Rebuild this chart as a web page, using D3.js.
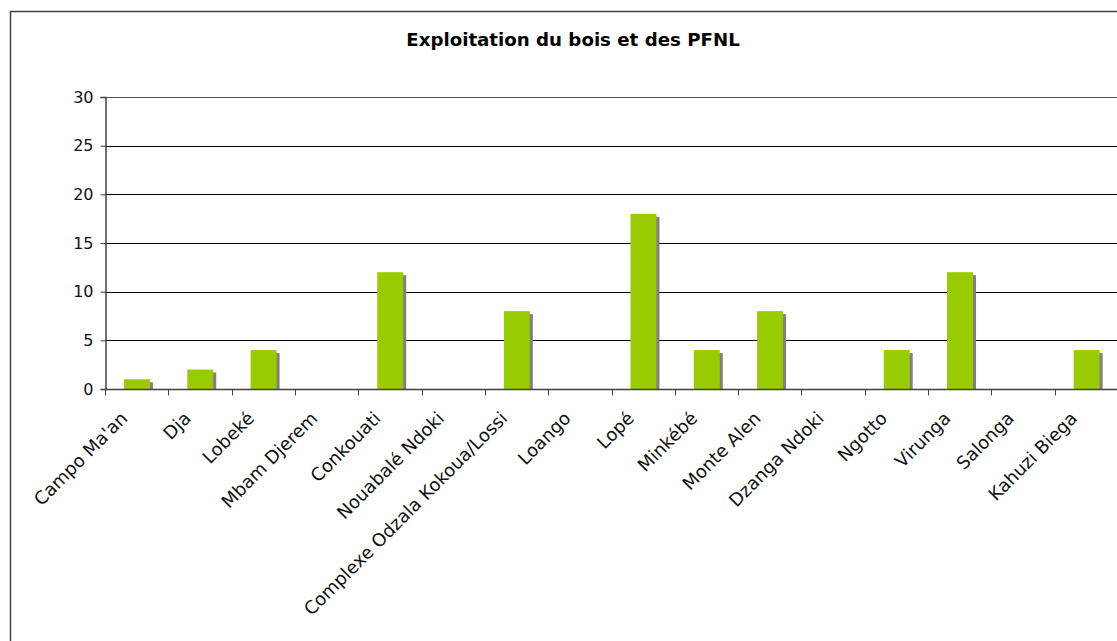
<!DOCTYPE html>
<html>
<head>
<meta charset="utf-8">
<script src="https://cdn.jsdelivr.net/npm/d3@7"></script>
<style>
  body { margin: 0; background: #fff; }
  svg { display: block; font-family: "DejaVu Sans", Verdana, sans-serif; }
</style>
</head>
<body>
<div id="chart"></div>
<script>
const categories = ["Campo Ma'an", "Dja", "Lobeké", "Mbam Djerem", "Conkouati", "Nouabalé Ndoki",
    "Complexe Odzala Kokoua/Lossi", "Loango", "Lopé", "Minkébé", "Monte Alen", "Dzanga Ndoki",
    "Ngotto", "Virunga", "Salonga", "Kahuzi Biega"]
const values = [1, 2, 4, 0, 12, 0, 8, 0, 18, 4, 8, 0, 4, 12, 0, 4]
const yTicks = [0, 5, 10, 15, 20, 25, 30]
const title = "Exploitation du bois et des PFNL"

const width = 1117, height = 641
const plot = {left: 105, top: 97, right: 1118, bottom: 389}

const data = categories.map((c, i) => ({cat: c, val: values[i]}))

const svg = d3.select('#chart').append('svg')
    .attr('width', width)
    .attr('height', height)

// chart frame (runs past the right and bottom edges)
svg.append('rect')
    .attr('x', 10.5).attr('y', 11.5)
    .attr('width', width + 20).attr('height', height + 20)
    .attr('fill', 'none')
    .attr('stroke', '#404040')
    .attr('stroke-width', 1.5)

svg.append('text')
    .attr('x', 573).attr('y', 46)
    .attr('text-anchor', 'middle')
    .attr('font-size', 18.2)
    .attr('font-weight', 'bold')
    .attr('fill', '#000')
    .text(title)

const x = d3.scaleBand()
    .domain(categories)
    .range([plot.left, plot.right])
    .padding(0)

const y = d3.scaleLinear()
    .domain([0, 30])
    .range([plot.bottom, plot.top])

// gridlines
svg.append('g')
    .selectAll('line')
    .data(yTicks.filter(t => t > 0))
    .join('line')
        .attr('x1', plot.left).attr('x2', width + 5)
        .attr('y1', d => Math.round(y(d)) + 0.5)
        .attr('y2', d => Math.round(y(d)) + 0.5)
        .attr('stroke', d => d == 30 ? '#555' : '#000')
        .attr('stroke-width', 1)

// bars with shadow
const barOff = 0.30, barW = 0.41
const bars = svg.append('g')
bars.selectAll('.shadow')
    .data(data.filter(d => d.val > 0))
    .join('rect')
        .attr('class', 'shadow')
        .attr('x', d => x(d.cat) + x.bandwidth() * barOff + 3)
        .attr('y', d => y(d.val) + 3)
        .attr('width', x.bandwidth() * barW)
        .attr('height', d => y(0) - y(d.val) - 3)
        .attr('fill', '#808080')
bars.selectAll('.bar')
    .data(data.filter(d => d.val > 0))
    .join('rect')
        .attr('class', 'bar')
        .attr('x', d => x(d.cat) + x.bandwidth() * barOff)
        .attr('y', d => y(d.val))
        .attr('width', x.bandwidth() * barW)
        .attr('height', d => y(0) - y(d.val))
        .attr('fill', '#99cc00')

// y axis
const yAxis = svg.append('g')
    .attr('transform', 'translate(' + (plot.left + 0.5) + ',0)')
    .call(d3.axisLeft(y).tickValues(yTicks).tickSize(5).tickPadding(7))
yAxis.select('.domain').attr('stroke', '#404040').attr('stroke-width', 1.5)
yAxis.selectAll('.tick line').attr('stroke', '#404040')
yAxis.selectAll('.tick text')
    .attr('font-size', 16)
    .attr('fill', '#111')
    .style('font-family', '"DejaVu Sans", Verdana, sans-serif')

// x axis: ticks on category boundaries
const xg = svg.append('g')
    .attr('transform', 'translate(0,' + (plot.bottom + 0.5) + ')')
xg.append('line')
    .attr('x1', plot.left).attr('x2', width + 5)
    .attr('stroke', '#404040').attr('stroke-width', 1.5)
xg.selectAll('.tk')
    .data(categories.concat(['end']))
    .join('line')
        .attr('class', 'tk')
        .attr('x1', (d, i) => Math.round(plot.left + i * x.step()) + 0.5)
        .attr('x2', (d, i) => Math.round(plot.left + i * x.step()) + 0.5)
        .attr('y1', 0).attr('y2', 6)
        .attr('stroke', '#404040')
xg.selectAll('.lbl')
    .data(categories)
    .join('text')
        .attr('class', 'lbl')
        .attr('font-size', 18)
        .attr('fill', '#111')
        .attr('text-anchor', 'end')
        .attr('transform', d => 'translate(' + (x(d) + x.bandwidth() / 2 - 8) + ',30) rotate(-45)')
        .text(d => d)
</script>
</body>
</html>
